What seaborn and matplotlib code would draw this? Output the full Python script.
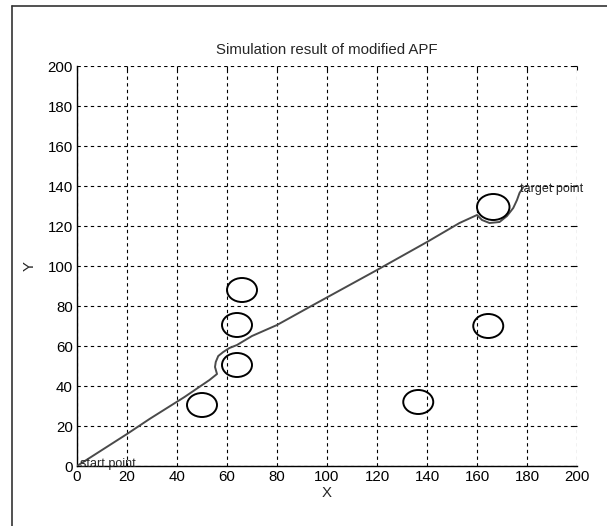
import matplotlib
matplotlib.use("Agg")
import matplotlib.pyplot as plt
import seaborn as sns
import pandas as pd
from matplotlib.patches import Ellipse
from matplotlib.lines import Line2D

# ---- data ----
path_x = [0, 10, 20, 29, 43, 53, 56, 55.2, 55.5, 56.5, 58.5, 61, 64, 70, 80, 93, 120, 140, 153, 160,
          162, 165, 169, 172, 174.5, 176, 177, 178.5]
path_y = [0, 8, 16, 23.5, 34.5, 43, 46, 49.5, 52, 55, 57, 59, 60.5, 65, 70.5, 79.5, 98, 112, 121.5, 125.5,
          123, 121.5, 122, 125, 129, 133, 136.5, 139.5]
obs_x = [50, 64, 64, 66, 136.5, 164.5, 166.5]
obs_y = [30.5, 50.5, 70.5, 88, 32, 70, 129.5]
obs_r = [6, 6, 6, 6, 6, 6, 6.5]
ticks = [0, 20, 40, 60, 80, 100, 120, 140, 160, 180, 200]
title = "Simulation result of modified APF"

sns.set_style("white")
plt.rcParams['font.family'] = ['Liberation Sans', 'DejaVu Sans']

fig = plt.figure(figsize=(6.07, 5.26), dpi=100)
ax = fig.add_axes([77/607, 60/526, 500/607, 400/526])

df = pd.DataFrame({"x": path_x, "y": path_y})
sns.lineplot(data=df, x="x", y="y", sort=False, estimator=None, ax=ax,
             color="#4a4a4a", lw=1.4, zorder=3)

for cx, cy, r in zip(obs_x, obs_y, obs_r):
    ax.add_patch(Ellipse((cx, cy), 2 * r, 2 * r, fill=False, ec="black", lw=1.4, zorder=4))

ax.text(1, 1.2, "start point", fontsize=9, va="center", ha="left", zorder=5)
ax.text(177, 138.5, "target point", fontsize=9, va="center", ha="left", zorder=5)

ax.set_xlim(0, 200)
ax.set_ylim(0, 200)
ax.set_xticks(ticks)
ax.set_yticks(ticks)
ax.set_xticklabels([str(t) for t in ticks])
ax.set_yticklabels([str(t) for t in ticks])
ax.tick_params(direction="in", length=3, width=0.8, top=True, right=True,
               labelsize=10.8, colors="black", pad=3)
ax.grid(True, color="black", linestyle=(0, (3, 3)), linewidth=0.8)
for side in ["top", "right"]:
    ax.spines[side].set_visible(False)
for side in ["left", "bottom"]:
    ax.spines[side].set_color("black")
    ax.spines[side].set_linewidth(1.0)
ax.set_xlabel("X", fontsize=10.8, labelpad=1)
ax.set_ylabel("Y", fontsize=10.8, labelpad=8)
ax.set_title(title, fontsize=10.8, pad=9)

fig.add_artist(Line2D([12/607, 12/607], [0, 1 - 6/526], transform=fig.transFigure, color="#333333", lw=1.2))
fig.add_artist(Line2D([12/607, 1], [1 - 6/526, 1 - 6/526], transform=fig.transFigure, color="#333333", lw=1.2))

fig.savefig("out.png", dpi=100)
